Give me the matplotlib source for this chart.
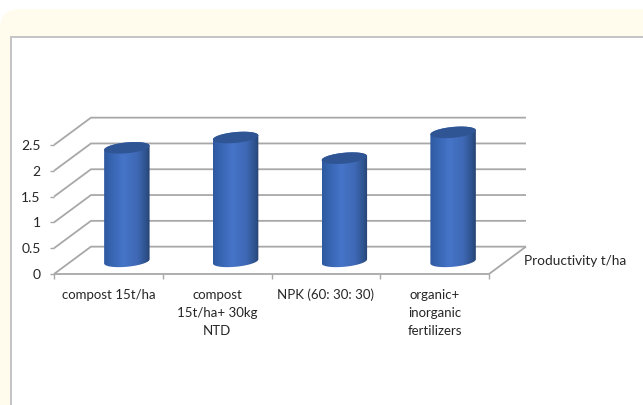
import numpy as np
import matplotlib
matplotlib.use("Agg")
import matplotlib.pyplot as plt
from matplotlib.colors import LinearSegmentedColormap
from matplotlib.patches import FancyBboxPatch, PathPatch, Rectangle
from matplotlib.path import Path

categories = ["compost 15t/ha", "compost\n15t/ha+ 30kg\nNTD", "NPK (60: 30: 30)", "organic+\ninorganic\nfertilizers"]
values = [2.2, 2.4, 2.0, 2.5]
y_ticks = [0, 0.5, 1, 1.5, 2, 2.5]
y_tick_labels = ["0", "0.5", "1", "1.5", "2", "2.5"]
series_name = "Productivity t/ha"

# oblique depth of the fake 3d box, in data units
DEPTH_X = 0.34
DEPTH_Y = 0.53
BAR_W = 0.418
ELL_H = 0.105
SHEAR = 0.04
GRID = "#a8a8a8"
TEXT = "#262626"

plt.rcParams['font.family'] = ['Lato', 'DejaVu Sans']

W, H = 643, 405
fig = plt.figure(figsize=(W / 100, H / 100), dpi=100, facecolor="white")

# cream card and white panel behind the chart, in figure pixels
px = matplotlib.transforms.Affine2D().scale(1 / W, -1 / H).translate(0, 1) + fig.transFigure
fig.add_artist(FancyBboxPatch((0, 9), W + 60, H + 60, boxstyle="round,pad=0,rounding_size=20",
                              fc="#fffcee", ec="none", transform=px, zorder=-2))
fig.add_artist(Rectangle((11, 37), W, H, fc="white", ec="#c4c4c4", lw=1.4, transform=px, zorder=-1))

ax = fig.add_axes([54 / W, (H - 274) / H, 435 / W, 129 / H])
ax.patch.set_visible(False)
for s in ax.spines.values():
    s.set_visible(False)


def wall_line(xs, ys):
    ax.plot(xs, ys, color=GRID, lw=1.3, clip_on=False, zorder=1, solid_capstyle="butt")


n = len(categories)
for v in y_ticks:
    wall_line([0, DEPTH_X, n + DEPTH_X], [v, v + DEPTH_Y, v + DEPTH_Y])
wall_line([0, n, n + DEPTH_X], [0, 0, DEPTH_Y])

cmap = LinearSegmentedColormap.from_list("cyl", [
    (0.0, "#2f5aa0"), (0.12, "#3562ad"), (0.42, "#4674c8"),
    (0.72, "#3f69b6"), (0.9, "#2f5490"), (1.0, "#264474")])
grad = np.linspace(0, 1, 128).reshape(1, -1)
t = np.linspace(0, 2 * np.pi, 73)

for i, val in enumerate(values):
    cx = i + 0.5 + DEPTH_X / 2
    base = DEPTH_Y / 2 - 0.02
    top = base + val
    a = BAR_W / 2
    # lower half of the base ellipse, then upper half of the top one
    lo = np.linspace(np.pi, 2 * np.pi, 40)
    hi = np.linspace(0, np.pi, 40)
    xs = np.r_[cx + a * np.cos(lo), cx + a * np.cos(hi)]
    ys = np.r_[base + ELL_H * np.sin(lo) + SHEAR * np.cos(lo), top + ELL_H * np.sin(hi) + SHEAR * np.cos(hi)]
    body = Path(np.c_[xs, ys])
    im = ax.imshow(grad, extent=[cx - a, cx + a, base - 0.2, top + 0.2], aspect="auto",
                   cmap=cmap, zorder=3, interpolation="bilinear")
    # tops can stand above the axes box, so only the cylinder outline clips
    im.set_clip_box(fig.bbox)
    im.set_clip_path(PathPatch(body, transform=ax.transData))
    cap = Path(np.c_[cx + a * np.cos(t), top + ELL_H * np.sin(t) + SHEAR * np.cos(t)])
    ax.add_patch(PathPatch(cap, fc="#2f5595", ec="none", zorder=4, clip_on=False))

ax.set_xlim(0, n)
ax.set_ylim(0, 2.5)
ax.set_yticks(y_ticks)
ax.set_yticklabels(y_tick_labels, fontsize=10, color=TEXT)
ax.set_xticks(range(n + 1))
ax.set_xticklabels([])
ax.set_xticks(np.arange(n) + 0.5, categories, minor=True, fontsize=9.5, color=TEXT, linespacing=1.6, va="top")
ax.tick_params(axis="x", which="major", length=3.5, width=1, color=GRID)
ax.tick_params(axis="x", which="minor", length=0, pad=10.5)
ax.tick_params(axis="y", length=3, width=1, color=GRID, pad=6.5)

ax.text(n + DEPTH_X - 0.02, 0.255, series_name, fontsize=9.8, color=TEXT, va="center", ha="left", clip_on=False)

fig.savefig("out.png", dpi=100, facecolor=fig.get_facecolor())
